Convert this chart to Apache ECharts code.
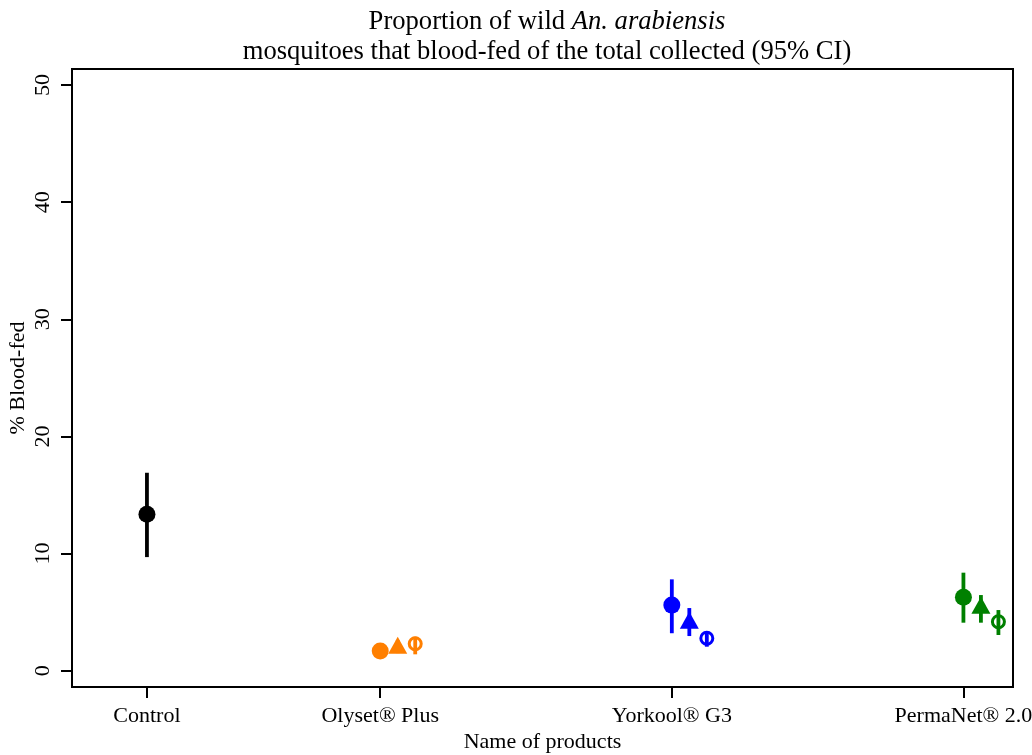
<!DOCTYPE html>
<html><head><meta charset="utf-8">
<script src="https://cdn.jsdelivr.net/npm/echarts@6/dist/echarts.min.js"></script>
<style>html,body{margin:0;padding:0;background:#fff}#c{width:1032px;height:755px}</style>
</head><body><div id="c"></div>
<script>
// ---- data ----
const categories = ['Control', 'Olyset® Plus', 'Yorkool® G3', 'PermaNet® 2.0'];
const categoryX = [1.2, 2, 3, 4];
const yTicks = [0, 10, 20, 30, 40, 50];
const groupColors = ['#000000', '#FF7F00', '#0000FF', '#008000'];

// filled circle estimates
const circleEst = [13.36, 1.68, 5.6, 6.27];
const circleLo  = [9.7, 1.3, 3.2, 4.1];
const circleHi  = [16.9, 2.1, 7.8, 8.37];
// filled triangle estimates
const triEst = [null, 1.92, 4.06, 5.34];
const triLo  = [null, 1.5, 2.96, 4.1];
const triHi  = [null, 2.6, 5.35, 6.46];
// open circle estimates
const openEst = [null, 2.3, 2.77, 4.18];
const openLo  = [null, 1.4, 2.05, 3.05];
const openHi  = [null, 2.9, 3.3, 5.18];

// ---- layout constants ----
const SERIF = 'Liberation Serif';
const shapeOffset = [0, 0.06, 0.12];

const shapes = [
  {est: circleEst, lo: circleLo, hi: circleHi},
  {est: triEst, lo: triLo, hi: triHi},
  {est: openEst, lo: openLo, hi: openHi}
];

const barData = [];
shapes.forEach((s, si) => {
  s.est.forEach((v, ci) => {
    if (v == null) return;
    barData.push([categoryX[ci] + shapeOffset[si], s.lo[ci], s.hi[ci], ci]);
  });
});

function pts(si, fn) {
  const out = [];
  shapes[si].est.forEach((v, ci) => {
    if (v == null) return;
    out.push({value: [categoryX[ci] + shapeOffset[si], v], itemStyle: fn(groupColors[ci])});
  });
  return out;
}

const chart = echarts.init(document.getElementById('c'), null, {renderer: 'canvas'});
chart.setOption({
  animation: false,
  backgroundColor: '#fff',
  title: {
    text: '{n|Proportion of wild }{i|An. arabiensis}\n{n|mosquitoes that blood-fed of the total collected (95% CI)}',
    left: 542, top: 2, textAlign: 'center',
    textStyle: {
      fontWeight: 'normal',
      rich: {
        n: {fontFamily: SERIF, fontSize: 26.6, lineHeight: 30, color: '#000', fontWeight: 'normal'},
        i: {fontFamily: SERIF, fontSize: 26.6, lineHeight: 30, color: '#000', fontStyle: 'italic', fontWeight: 'normal'}
      }
    }
  },
  grid: {left: 72, top: 69, right: 19, bottom: 68, outerBoundsMode: 'none', containLabel: false,
    show: true, borderColor: '#000', borderWidth: 2, backgroundColor: 'transparent'},
  xAxis: {
    type: 'value', min: 0.943, max: 4.17,
    name: 'Name of products', nameLocation: 'middle', nameGap: 44, nameMoveOverlap: false,
    nameTextStyle: {fontFamily: SERIF, fontSize: 22, color: '#000'},
    axisLine: {show: true, onZero: false, lineStyle: {color: '#000', width: 2}},
    axisTick: {show: true, length: 11, lineStyle: {color: '#000', width: 2}, customValues: categoryX},
    axisLabel: {
      customValues: categoryX, margin: 18,
      fontFamily: SERIF, fontSize: 22, color: '#000',
      formatter: v => {
        let best = 0;
        categoryX.forEach((x, i) => { if (Math.abs(x - v) < Math.abs(categoryX[best] - v)) best = i; });
        return categories[best];
      }
    },
    splitLine: {show: false}
  },
  yAxis: {
    type: 'value', min: -1.39, max: 51.37,
    name: '% Blood-fed', nameLocation: 'middle', nameGap: 43, nameMoveOverlap: false,
    nameTextStyle: {fontFamily: SERIF, fontSize: 22, color: '#000'},
    axisLine: {show: true, onZero: false, lineStyle: {color: '#000', width: 2}},
    axisTick: {show: true, length: 11, lineStyle: {color: '#000', width: 2}, customValues: yTicks},
    axisLabel: {customValues: yTicks, rotate: 90, margin: 18, fontFamily: SERIF, fontSize: 22, color: '#000'},
    splitLine: {show: false}
  },
  series: [
    {
      type: 'custom', z: 1,
      data: barData,
      renderItem: (params, api) => {
        const p1 = api.coord([api.value(0), api.value(1)]);
        const p2 = api.coord([api.value(0), api.value(2)]);
        return {type: 'line', shape: {x1: p1[0], y1: p1[1], x2: p2[0], y2: p2[1]},
          style: {stroke: groupColors[api.value(3)], lineWidth: 3.8}};
      }
    },
    {
      type: 'scatter', z: 3, symbol: 'circle', symbolSize: 17,
      itemStyle: {opacity: 1},
      data: pts(0, c => ({color: c, opacity: 1}))
    },
    {
      type: 'scatter', z: 3, symbol: 'triangle', symbolSize: [19, 17], symbolOffset: [0, -3],
      itemStyle: {opacity: 1},
      data: pts(1, c => ({color: c, opacity: 1}))
    },
    {
      type: 'scatter', z: 3, symbol: 'circle', symbolSize: 12,
      itemStyle: {opacity: 1},
      data: pts(2, c => ({color: 'rgba(0,0,0,0)', borderColor: c, borderWidth: 3, opacity: 1}))
    }
  ]
});
</script>
</body></html>
